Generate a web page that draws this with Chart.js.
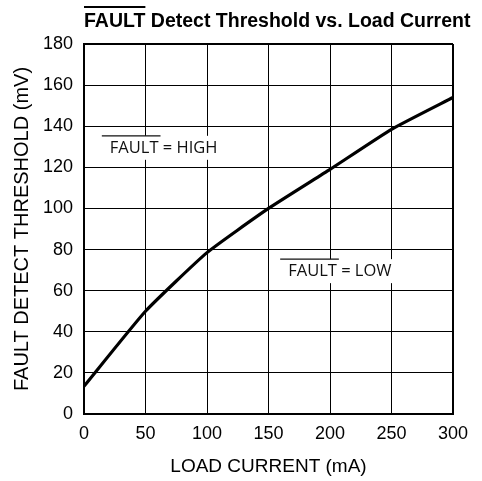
<!DOCTYPE html>
<html>
<head>
<meta charset="utf-8">
<script src="https://cdn.jsdelivr.net/npm/chart.js@4/dist/chart.umd.min.js"></script>
<style>
  html, body { margin: 0; padding: 0; background: #fff; }
  #wrap { width: 482px; height: 481px; position: relative; }
</style>
</head>
<body>
<div id="wrap"><canvas id="c"></canvas></div>
<script>
// ---- data ----
const loadCurrent = [0, 50, 100, 150, 200, 250, 300];          // mA
const threshold   = [13.5, 50, 78.5, 100, 119, 138.5, 154];    // mV
const xTicks = [0, 50, 100, 150, 200, 250, 300];
const yTicks = [0, 20, 40, 60, 80, 100, 120, 140, 160, 180];
const chartTitle = 'FAULT Detect Threshold vs. Load Current';
const xTitle = 'LOAD CURRENT (mA)';
const yTitle = 'FAULT DETECT THRESHOLD (mV)';
const noteTexts = ['FAULT = HIGH', 'FAULT = LOW'];
const noteX = [21, 166];
const noteY = [129.5, 69.5];
const overWord = 'FAULT';

const FONT = '"Liberation Sans", Arial, sans-serif';

const points = loadCurrent.map((x, i) => ({ x: x, y: threshold[i] }));

const decorPlugin = {
  id: 'decor',
  afterDraw(chart) {
    const ctx = chart.ctx;
    const xs = chart.scales.x, ys = chart.scales.y;
    ctx.save();
    // title with overline on FAULT
    ctx.font = 'bold 19.5px ' + FONT;
    ctx.fillStyle = '#000';
    ctx.textBaseline = 'alphabetic';
    ctx.textAlign = 'left';
    const tx = chart.chartArea.left;
    ctx.fillText(chartTitle, tx, 27);
    const fw = ctx.measureText(overWord).width;
    ctx.strokeStyle = '#000';
    ctx.lineWidth = 2;
    ctx.beginPath();
    ctx.moveTo(tx, 7);
    ctx.lineTo(tx + fw, 7);
    ctx.stroke();

    // annotations
    ctx.font = '16.5px "Open Sans", sans-serif';
    ctx.textBaseline = 'middle';
    noteTexts.forEach((t, i) => {
      const px = xs.getPixelForValue(noteX[i]);
      const py = ys.getPixelForValue(noteY[i]);
      const w = ctx.measureText(t).width;
      ctx.fillStyle = '#fff';
      ctx.fillRect(px - 4, py - 12, w + 8, 24);
      ctx.fillStyle = '#111';
      ctx.fillText(t, px, py);
      const ow = ctx.measureText(overWord).width;
      ctx.strokeStyle = '#111';
      ctx.lineWidth = 1.3;
      ctx.beginPath();
      ctx.moveTo(px - 8, py - 12);
      ctx.lineTo(px + ow + 2, py - 12);
      ctx.stroke();
    });
    ctx.restore();
  }
};

new Chart(document.getElementById('c'), {
  type: 'scatter',
  data: {
    datasets: [{
      data: points,
      showLine: true,
      borderColor: '#000',
      borderWidth: 3.2,
      pointRadius: 0,
      tension: 0.15,
      fill: false
    }]
  },
  options: {
    responsive: true,
    maintainAspectRatio: false,
    animation: false,
    layout: { padding: { left: 0, right: 29, top: 44, bottom: 0 } },
    plugins: {
      legend: { display: false },
      title: { display: false },
      tooltip: { enabled: false }
    },
    scales: {
      x: {
        type: 'linear',
        min: 0, max: 300,
        afterBuildTicks(s) { s.ticks = xTicks.map(v => ({ value: v })); },
        afterFit(s) { s.height = 67; },
        grid: {
          color: '#000',
          lineWidth: c => (c.index === xTicks.length - 1 ? 2 : 1),
          drawTicks: false
        },
        border: { color: '#000', width: 2 },
        ticks: { color: '#000', font: { family: FONT, size: 18 }, padding: 9, maxRotation: 0 },
        title: { display: true, text: xTitle, color: '#000', font: { family: FONT, size: 19 }, padding: { top: 0, bottom: 3 } }
      },
      y: {
        type: 'linear',
        min: 0, max: 180,
        afterBuildTicks(s) { s.ticks = yTicks.map(v => ({ value: v })); },
        afterFit(s) { s.width = 84; },
        grid: {
          color: '#000',
          lineWidth: c => (c.index === yTicks.length - 1 ? 2 : 1),
          drawTicks: false
        },
        border: { color: '#000', width: 2 },
        ticks: { color: '#000', font: { family: FONT, size: 18 }, padding: 11 },
        title: { display: true, text: yTitle, color: '#000', font: { family: FONT, size: 20 }, padding: { top: 10, bottom: 0 } }
      }
    }
  },
  plugins: [decorPlugin]
});
</script>
</body>
</html>
